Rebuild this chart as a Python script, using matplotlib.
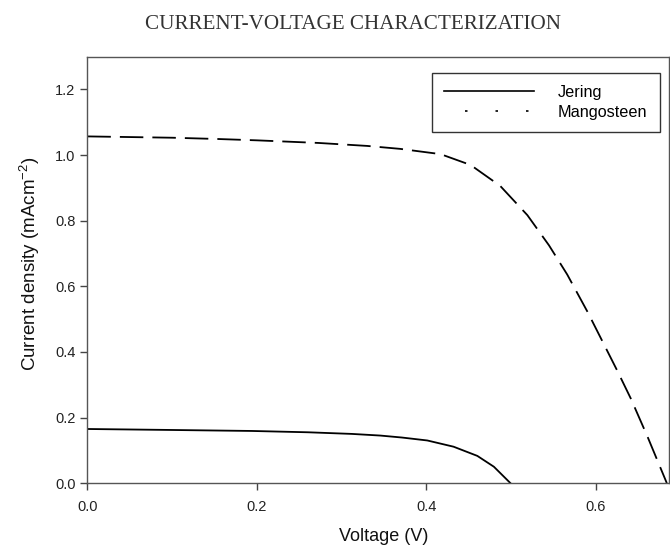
import matplotlib
matplotlib.use('Agg')
import matplotlib.pyplot as plt
from matplotlib.lines import Line2D

# values
v_jering = [0.0, 0.10, 0.194, 0.26, 0.312, 0.3455, 0.371, 0.401, 0.432, 0.460, 0.4795, 0.499]
j_jering = [0.165, 0.162, 0.159, 0.155, 0.150, 0.145, 0.139, 0.130, 0.111, 0.083, 0.050, 0.0]

v_mango = [0.0, 0.10, 0.155, 0.20, 0.273, 0.330, 0.369, 0.4166, 0.452, 0.487, 0.519,
           0.5445, 0.566, 0.590, 0.608, 0.625, 0.641, 0.661, 0.6835]
j_mango = [1.057, 1.053, 1.049, 1.045, 1.037, 1.028, 1.019, 1.003, 0.970, 0.906, 0.817,
           0.725, 0.636, 0.522, 0.430, 0.343, 0.258, 0.140, 0.0]

x_ticks = [0.0, 0.2, 0.4, 0.6]
y_ticks = [0.0, 0.2, 0.4, 0.6, 0.8, 1.0, 1.2]

plt.rcParams['font.family'] = ['Liberation Sans', 'DejaVu Sans']
plt.rcParams['mathtext.fontset'] = 'custom'
plt.rcParams['mathtext.rm'] = 'Liberation Sans'

fig = plt.figure(figsize=(6.7, 5.51), dpi=100)
ax = fig.add_axes([0.1304, 0.1232, 0.868, 0.7739])

ax.plot(v_jering, j_jering, color='black', lw=1.3)
ax.plot(v_mango, j_mango, color='black', lw=1.3, dashes=(13, 5))

ax.set_xlim(0, 0.686)
ax.set_ylim(0, 1.3)
ax.set_xticks(x_ticks)
ax.set_yticks(y_ticks)
ax.set_xticklabels(['%.1f' % t for t in x_ticks])
ax.set_yticklabels(['%.1f' % t for t in y_ticks])
ax.tick_params(direction='out', length=5, width=1, colors='#444444', labelsize=10.5,
               labelcolor='#222222')
ax.tick_params(axis='x', pad=7)
for s in ax.spines.values():
    s.set_color('#555555')
    s.set_linewidth(1)

ax.set_xlabel('Voltage (V)', fontsize=13, color='#111111')
ax.xaxis.set_label_coords(0.51, -0.105)
ax.set_ylabel('Current density (mAcm$^{\\mathregular{-2}}$)', fontsize=13.5, color='#111111')
ax.yaxis.set_label_coords(-0.078, 0.515)

fig.text(0.527, 0.955, 'CURRENT-VOLTAGE CHARACTERIZATION', ha='center', va='center',
         fontsize=15.2, family='Liberation Serif', color='#333333')

handles = [Line2D([], [], color='black', lw=1.2),
           Line2D([], [], color='black', lw=1.2, linestyle=(5.7, (1.5, 16.8)))]
leg = ax.legend(handles, ['Jering', 'Mangosteen'], loc='upper right',
                bbox_to_anchor=(0.998, 0.981), fontsize=11.7, frameon=True,
                fancybox=False, handlelength=5.5, handletextpad=1.5,
                borderpad=0.75, labelspacing=0.3)
leg.get_frame().set_edgecolor('black')
leg.get_frame().set_linewidth(1)

fig.savefig('out.png', dpi=100)
